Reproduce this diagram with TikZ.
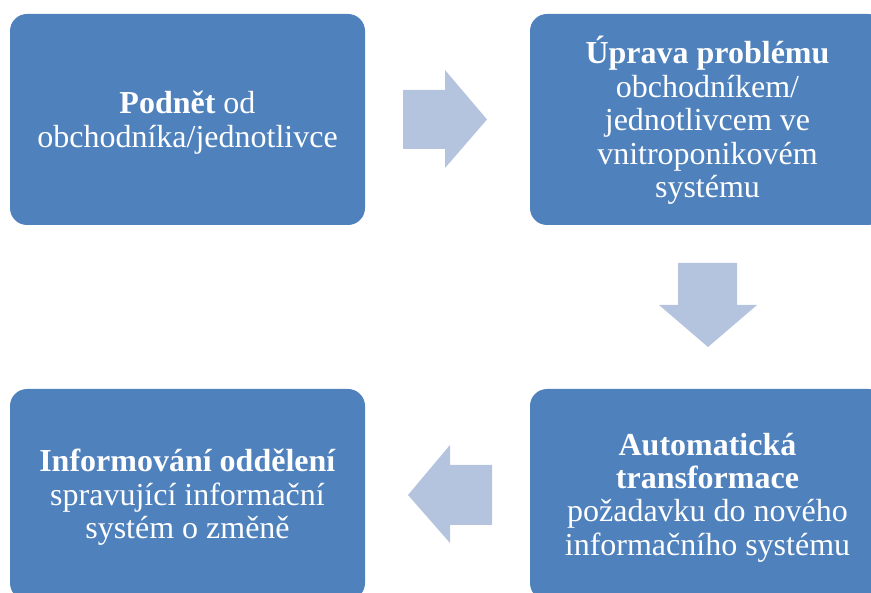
\documentclass[tikz,border=0pt]{standalone}
\usepackage{fontspec}
\setmainfont{Liberation Serif}
\definecolor{boxblue}{HTML}{4F81BD}
\definecolor{arrowblue}{HTML}{B4C4DF}
\begin{document}
\begin{tikzpicture}[x=1pt,y=-1pt,
  box/.style={fill=boxblue, rounded corners=17pt, minimum width=355pt,
    minimum height=211pt, inner sep=0pt},
  boxtext/.style={text=white, align=center, inner sep=0pt,
    font=\fontsize{32}{33.4}\selectfont},
  flowarrow/.style={fill=arrowblue}]
\useasboundingbox (0,0) rectangle (871,593);
\clip (0,0) rectangle (871,593);

% process steps
\node[box] (podnet) at (187.5,119.5) {};
\node[box] (uprava) at (707.5,119.5) {};
\node[box] (transformace) at (707.5,494.5) {};
\node[box] (informovani) at (187.5,494.5) {};

% step labels
\node[boxtext] (podnetText) at (187.5,122.5)
  {\textbf{Podnět} od\\obchodníka/jednotlivce};
\node[boxtext] (upravaText) at (707.5,120.5)
  {\textbf{Úprava problému}\\obchodníkem/\\jednotlivcem ve\\vnitroponikovém\\systému};
\node[boxtext] (transformaceText) at (707.5,497.5)
  {\textbf{Automatická}\\\textbf{transformace}\\požadavku do nového\\informačního systému};
\node[boxtext] (informovaniText) at (187.5,497.5)
  {\textbf{Informování oddělení}\\spravující informační\\systém o změně};

% block arrows between the steps
\fill[flowarrow] (403,90) -- (445,90) -- (445,70) -- (487,119.5)
  -- (445,168) -- (445,149) -- (403,149) -- cycle;
\fill[flowarrow] (678,263) -- (737,263) -- (737,305) -- (757,305)
  -- (708,347) -- (659,305) -- (678,305) -- cycle;
\fill[flowarrow] (492,465) -- (450,465) -- (450,445) -- (408,495)
  -- (450,543) -- (450,525) -- (492,525) -- cycle;
\end{tikzpicture}
\end{document}
